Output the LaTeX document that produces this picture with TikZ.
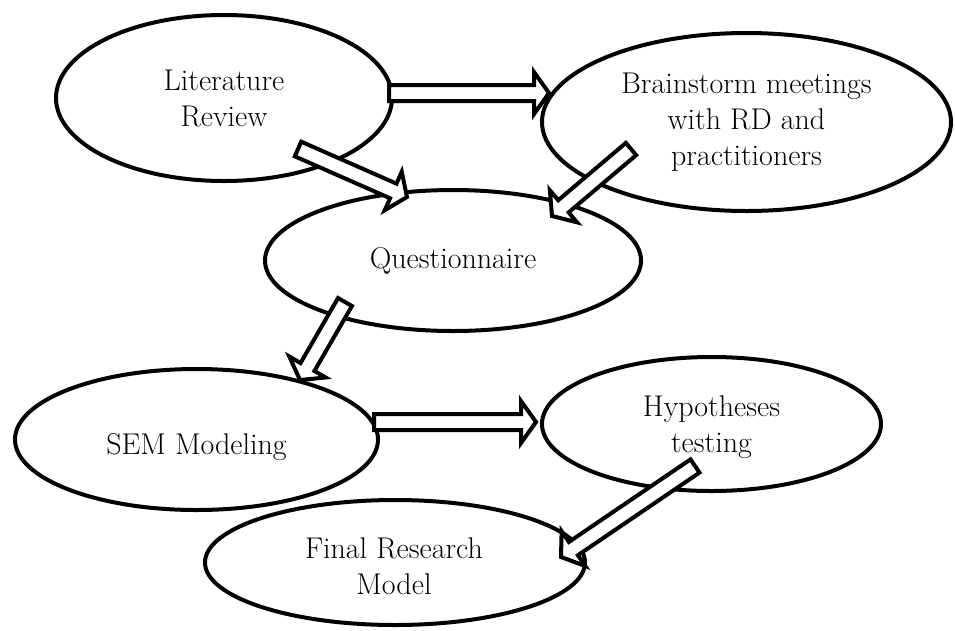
\documentclass[tikz,border=0pt]{standalone}
\usepackage{fontspec}
\usetikzlibrary{calc,shapes.geometric}
\tikzset{
  stage/.style={ellipse, draw=black, line width=4pt, inner sep=0pt, align=center,
    font=\fontsize{30}{36}\selectfont},
  stagetext/.style={inner sep=0pt, align=center, font=\fontsize{30}{36}\selectfont},
  blockarr/.style={draw=black, fill=white, line width=4pt, line join=miter},
}
\newcommand\blockarrow[2]{%
  \coordinate (#1h) at ($(#2)!15pt!(#1)$);
  \draw[blockarr] ($(#1)!8pt!90:(#2)$) -- ($(#1h)!8pt!90:(#2)$) -- ($(#1h)!21pt!90:(#2)$)
    -- (#2) -- ($(#1h)!21pt!-90:(#2)$) -- ($(#1h)!8pt!-90:(#2)$) -- ($(#1)!8pt!-90:(#2)$) -- cycle;}
\begin{document}
\begin{tikzpicture}[x=1pt,y=-1pt]
\useasboundingbox (0,0) rectangle (955,630);
% stages
\node[stage, minimum width=336pt, minimum height=166pt] (lit) at (224,98) {Literature\\Review};
\node[stage, minimum width=409pt, minimum height=178pt] (brain) at (746.5,122) {Brainstorm meetings\\with RD and\\practitioners};
\node[stage, minimum width=376pt, minimum height=141pt] (quest) at (453,260.5) {Questionnaire};
\node[stage, minimum width=363pt, minimum height=141pt] (sem) at (196.5,439.5) {};
\node[stagetext] (semt) at (196.5,447) {SEM Modeling};
\node[stage, minimum width=339pt, minimum height=134pt] (hyp) at (711.5,424) {};
\node[stagetext] (hypt) at (711.5,427) {Hypotheses\\testing};
\node[stage, minimum width=380pt, minimum height=125pt] (final) at (395,562.5) {};
\node[stagetext] (finalt) at (394,566) {Final Research\\Model};
% arrow end points
\coordinate (a1s) at (389,93);   \coordinate (a1e) at (549,93);
\coordinate (a2s) at (298,149);  \coordinate (a2e) at (407,197);
\coordinate (a3s) at (631,149);  \coordinate (a3e) at (552,216);
\coordinate (a4s) at (345,302);  \coordinate (a4e) at (300,380);
\coordinate (a5s) at (374,422);  \coordinate (a5e) at (536,422);
\coordinate (a6s) at (695,466);  \coordinate (a6e) at (561,557);
\blockarrow{a1s}{a1e}
\blockarrow{a2s}{a2e}
\blockarrow{a3s}{a3e}
\blockarrow{a4s}{a4e}
\blockarrow{a5s}{a5e}
\blockarrow{a6s}{a6e}
\end{tikzpicture}
\end{document}
